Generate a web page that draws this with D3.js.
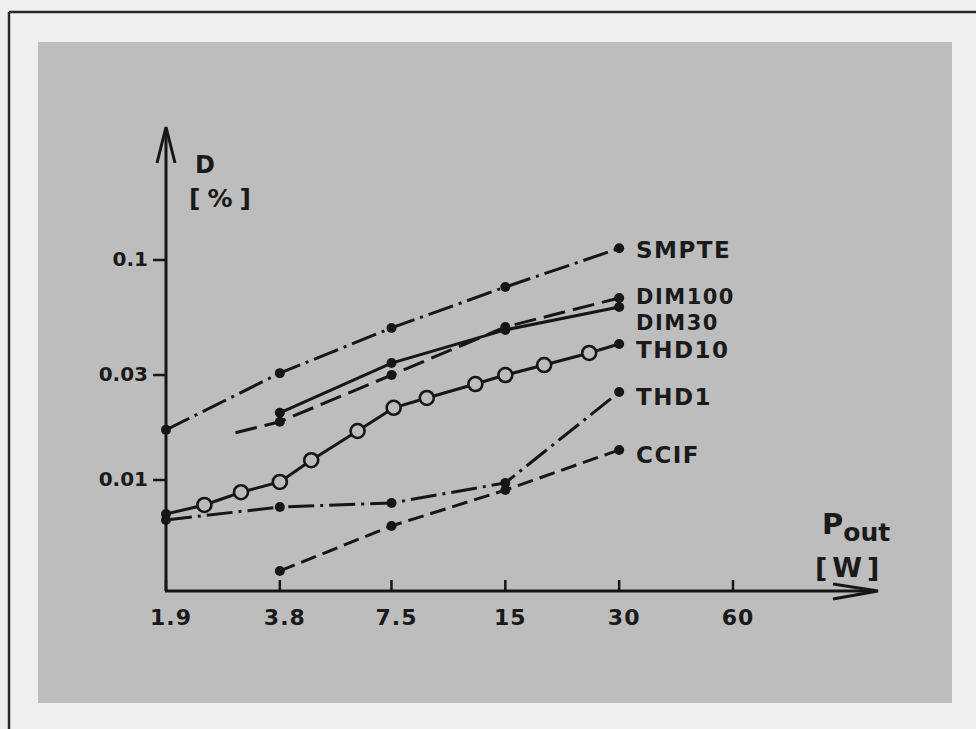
<!DOCTYPE html>
<html><head><meta charset="utf-8">
<script src="https://cdn.jsdelivr.net/npm/d3@7"></script>
<style>
html,body{margin:0;padding:0;background:#efefef;}
svg{display:block;}
text{font-family:"DejaVu Sans",sans-serif;fill:#1a1a1a;}
</style></head>
<body>
<svg id="chart" width="976" height="729"></svg>
<script>
// ---- data ----
const xTicks = [1.9, 3.8, 7.5, 15, 30, 60];
const xTickLabels = ["1.9", "3.8", "7.5", "15", "30", "60"];
const yTicks = [0.01, 0.03, 0.1];
const yTickLabels = ["0.01", "0.03", "0.1"];

const smpteX = [1.9, 3.8, 7.5, 15, 30];
const smpteY = [0.0169, 0.0306, 0.0491, 0.0754, 0.113];
const dim100X = [2.9, 3.8, 7.5, 15, 30];
const dim100Y = [0.0164, 0.0184, 0.0300, 0.0496, 0.0672];
const dim100Marks = [false, true, true, true, true];
const dim30X = [3.8, 7.5, 15, 30];
const dim30Y = [0.0202, 0.0340, 0.0481, 0.0611];
const thd10X = [1.9, 2.4, 3.0, 3.8, 4.6, 6.1, 7.6, 9.3, 12.5, 15, 19, 25, 30];
const thd10Y = [0.0070, 0.0077, 0.0088, 0.0098, 0.0123, 0.0167, 0.0213, 0.0236, 0.0273, 0.0300, 0.0333, 0.0378, 0.0415];
const thd1X = [1.9, 3.8, 7.5, 15, 30];
const thd1Y = [0.00658, 0.00754, 0.00786, 0.0097, 0.0251];
const ccifX = [3.8, 7.5, 15, 30];
const ccifY = [0.00386, 0.00618, 0.0090, 0.0137];

const seriesNames = ["SMPTE", "DIM100", "DIM30", "THD10", "THD1", "CCIF"];

// ---- layout ----
const svg = d3.select("#chart");
const ink = "#161616";
const panelFill = "#bdbdbd";

// outer border lines
svg.append("line").attr("x1", 9).attr("y1", 12).attr("x2", 976).attr("y2", 12)
  .attr("stroke", "#2a2a2a").attr("stroke-width", 2.5);
svg.append("line").attr("x1", 9).attr("y1", 12).attr("x2", 9).attr("y2", 729)
  .attr("stroke", "#2a2a2a").attr("stroke-width", 2.5);
// gray panel
svg.append("rect").attr("x", 38).attr("y", 42).attr("width", 914).attr("height", 661)
  .attr("fill", panelFill);

const x = d3.scaleLog().domain([1.9, 60]).range([166, 733]);
const y = d3.scaleLog().domain([0.01, 0.1]).range([480, 260]);

const ox = 166, oy = 591;
const g = svg.append("g");

// axes
g.append("line").attr("x1", ox).attr("y1", oy).attr("x2", ox).attr("y2", 129)
  .attr("stroke", ink).attr("stroke-width", 3);
g.append("line").attr("x1", ox - 1).attr("y1", oy).attr("x2", 875).attr("y2", oy)
  .attr("stroke", ink).attr("stroke-width", 3);
// arrowheads
g.append("path").attr("d", `M${ox-9},${163} L${ox},${127} L${ox+9},${163}`)
  .attr("fill", "none").attr("stroke", ink).attr("stroke-width", 3).attr("stroke-linejoin", "miter");
g.append("path").attr("d", `M${833},${584} L${878},${oy} L${833},${599}`)
  .attr("fill", "none").attr("stroke", ink).attr("stroke-width", 3).attr("stroke-linejoin", "miter");

// x ticks
xTicks.forEach((t, i) => {
  g.append("line").attr("x1", x(t)).attr("x2", x(t)).attr("y1", oy).attr("y2", oy - 11)
    .attr("stroke", ink).attr("stroke-width", 2.5);
  g.append("text").attr("x", x(t) + 5).attr("y", 625).attr("text-anchor", "middle")
    .attr("font-size", 22).attr("font-weight", "bold").attr("letter-spacing", 1).text(xTickLabels[i]);
});
// y ticks
yTicks.forEach((t, i) => {
  g.append("line").attr("x1", ox - 13).attr("x2", ox).attr("y1", y(t)).attr("y2", y(t))
    .attr("stroke", ink).attr("stroke-width", 2.5);
  g.append("text").attr("x", 148).attr("y", y(t) + 6).attr("text-anchor", "end")
    .attr("font-size", 20).attr("font-weight", "bold").text(yTickLabels[i]);
});

// axis titles
g.append("text").attr("x", 195).attr("y", 173).attr("font-size", 24).attr("font-weight", "bold").text("D");
g.append("text").attr("x", 189).attr("y", 207).attr("font-size", 25).attr("font-weight", "bold").attr("letter-spacing", 7).text("[%]");
const pt = g.append("text").attr("x", 822).attr("y", 534).attr("font-size", 29).attr("font-weight", "bold");
pt.append("tspan").text("P");
pt.append("tspan").attr("font-size", 25).attr("dy", 7).attr("letter-spacing", 0).text("out");
g.append("text").attr("x", 815).attr("y", 577).attr("font-size", 27).attr("font-weight", "bold").attr("letter-spacing", 5).text("[W]");

// series
const line = d3.line().x(d => x(d[0])).y(d => y(d[1]));
function zip(xs, ys) { return xs.map((v, i) => [v, ys[i]]); }

const series = [
  { name: "SMPTE", pts: zip(smpteX, smpteY), dash: "26,6,3,6", labelY: 258, size: 23 },
  { name: "DIM100", pts: zip(dim100X, dim100Y), dash: "22,8", marks: dim100Marks, labelY: 304, size: 21 },
  { name: "DIM30", pts: zip(dim30X, dim30Y), dash: null, labelY: 330, size: 21 },
  { name: "THD10", pts: zip(thd10X, thd10Y), dash: null, open: true, labelY: 358, size: 23 },
  { name: "THD1", pts: zip(thd1X, thd1Y), dash: "26,6,3,6", labelY: 405, size: 23 },
  { name: "CCIF", pts: zip(ccifX, ccifY), dash: "16,7", labelY: 463, size: 23 }
];

series.forEach(s => {
  g.append("path").datum(s.pts).attr("d", line)
    .attr("fill", "none").attr("stroke", ink).attr("stroke-width", 3)
    .attr("stroke-dasharray", s.dash);
});
series.forEach(s => {
  s.pts.forEach((p, i) => {
    if (s.marks && !s.marks[i]) return;
    const last = i === s.pts.length - 1;
    const first = i === 0;
    if (s.open && !last && !first) {
      g.append("circle").attr("cx", x(p[0])).attr("cy", y(p[1])).attr("r", 7)
        .attr("fill", panelFill).attr("stroke", ink).attr("stroke-width", 2.6);
    } else {
      g.append("circle").attr("cx", x(p[0])).attr("cy", y(p[1])).attr("r", 5)
        .attr("fill", ink);
    }
  });
  g.append("text").attr("x", 636).attr("y", s.labelY).attr("font-size", s.size)
    .attr("font-weight", "bold").attr("letter-spacing", 1.5).text(s.name);
});
</script>
</body></html>
